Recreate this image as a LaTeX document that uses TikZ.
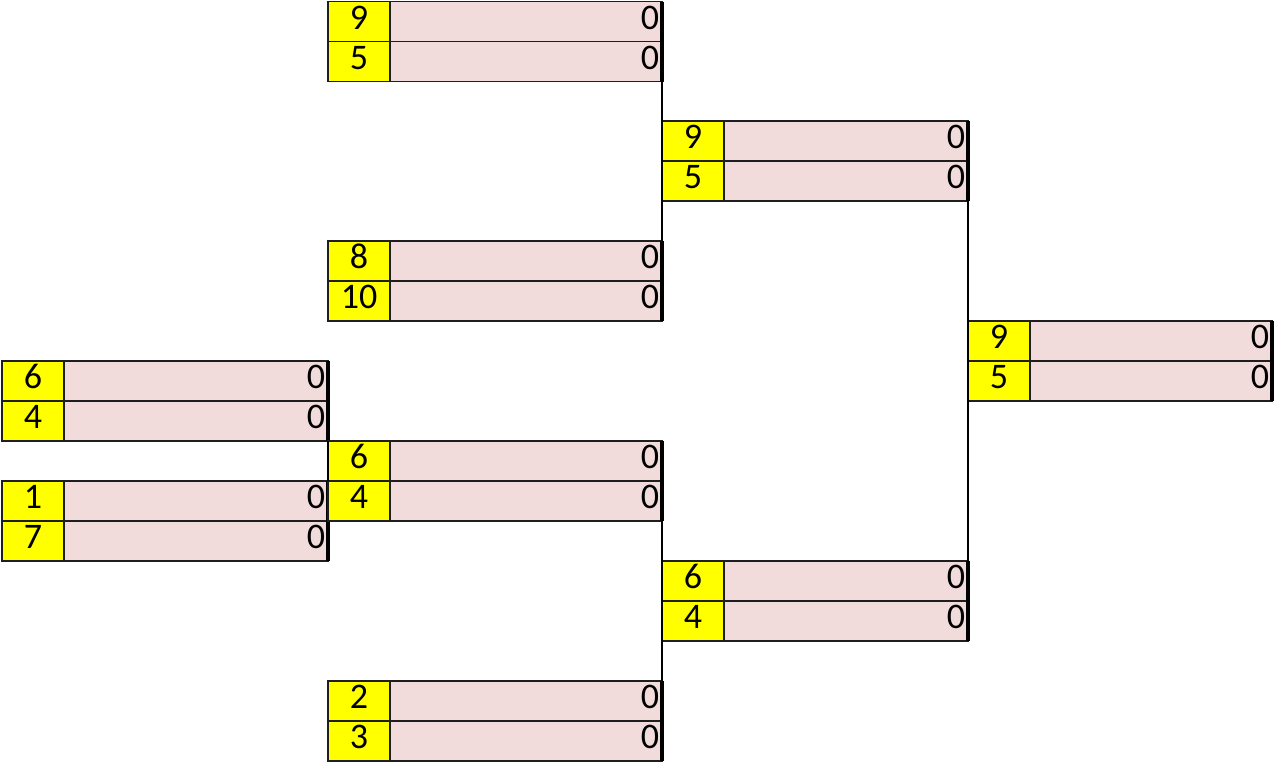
\documentclass[tikz,border=0pt]{standalone}
\usepackage{fontspec}
\setmainfont{Carlito}
\definecolor{cellyellow}{RGB}{255,255,0}
\definecolor{cellpink}{RGB}{242,220,219}
\definecolor{gridline}{RGB}{30,30,30}
\tikzset{
  cellbase/.style={draw=gridline, line width=1.4pt, inner sep=0pt, outer sep=0pt,
    minimum height=40pt, text height=23pt, text depth=8pt,
    anchor=north west, font=\fontsize{36}{40}\selectfont},
  ycell/.style={cellbase, fill=cellyellow, align=center},
  pcell/.style={cellbase, fill=cellpink, align=right, inner xsep=3pt},
  thickedge/.style={draw=black, line width=3.5pt},
  link/.style={draw=black, line width=1.3pt},
}
\newcommand{\bracketbox}[7]{%
  \node[ycell, minimum width=#4pt] (#1-ta) at (#2,#3) {#6};
  \node[pcell, minimum width=#5pt, text width=#5pt-6pt] (#1-tp) at (#1-ta.north east) {0};
  \node[ycell, minimum width=#4pt] (#1-ba) at (#1-ta.south west) {#7};
  \node[pcell, minimum width=#5pt, text width=#5pt-6pt] (#1-bp) at (#1-ba.north east) {0};
  \draw[thickedge] (#1-tp.north east) -- (#1-bp.south east);
}
\begin{document}
\begin{tikzpicture}[x=1pt,y=-1pt]
\useasboundingbox (0,0) rectangle (1274,763);
% boxes
\bracketbox{a1}{2}{361}{62}{264}{6}{4}
\bracketbox{a2}{2}{481}{62}{264}{1}{7}
\bracketbox{c1}{328}{1.5}{62}{272}{9}{5}
\bracketbox{c2}{328}{241}{62}{272}{8}{10}
\bracketbox{c3}{328}{441}{62}{272}{6}{4}
\bracketbox{c4}{328}{681}{62}{272}{2}{3}
\bracketbox{e1}{662}{121}{62}{244}{9}{5}
\bracketbox{e2}{662}{561}{62}{244}{6}{4}
\bracketbox{g1}{968}{321}{62}{242}{9}{5}
% connectors
\draw[link] (a1-bp.south east) -- (a2-tp.north east);
\draw[link] (c1-bp.south east) -- (c2-tp.north east);
\draw[link] (c3-bp.south east) -- (c4-tp.north east);
\draw[link] (e1-bp.south east) -- (e2-tp.north east);
\end{tikzpicture}
\end{document}
